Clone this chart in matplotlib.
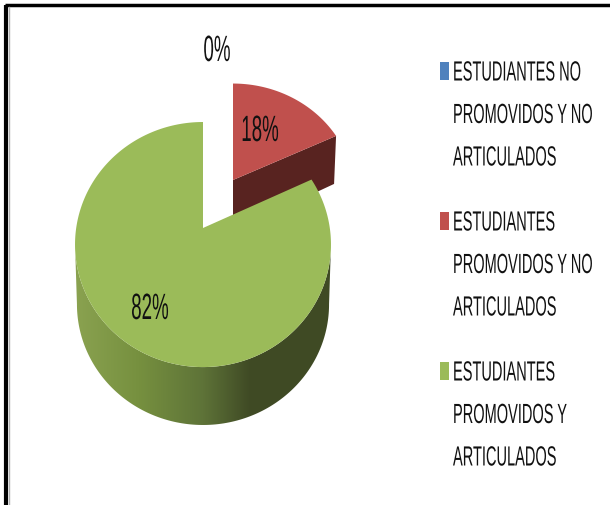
import numpy as np
import matplotlib
matplotlib.use('Agg')
import matplotlib.pyplot as plt
import matplotlib.patheffects as pe
from matplotlib.colors import LinearSegmentedColormap
from matplotlib.patches import Polygon
from matplotlib.transforms import Affine2D

categories = [
    ['ESTUDIANTES NO', 'PROMOVIDOS Y NO', 'ARTICULADOS'],
    ['ESTUDIANTES', 'PROMOVIDOS Y NO', 'ARTICULADOS'],
    ['ESTUDIANTES', 'PROMOVIDOS Y', 'ARTICULADOS'],
]
values = [0, 18, 82]
colours = ['#4F81BD', '#C0504D', '#9BBB59']

plt.rcParams['font.family'] = ['Liberation Sans', 'DejaVu Sans']
textSize = 10.5
labelSize = 13.5
sideRed = '#582320'
# pixels, same as the picture
cx, cy = 203, 229
redCx, redCy = 233, 181
depth = 60


class TallText(pe.AbstractPathEffect):
    """The picture was squashed sideways, so the letters come out tall and thin"""

    def __init__(self, stretch):
        super().__init__()
        self.stretch = stretch

    def draw_path(self, renderer, gc, tpath, affine, rgbFace=None):
        renderer.draw_path(gc, tpath, Affine2D().scale(1, self.stretch) + affine, rgbFace)


def project(theta, x0, y0, scaleX=1.0, scaleY=1.0):
    # tilted circle seen in perspective, theta clockwise from 12 o'clock
    k = 0.135
    d = 1 + k * np.cos(theta)
    return x0 + scaleX * 126.8 * np.sin(theta) / d, y0 - scaleY * 120.3 * np.cos(theta) / d


fig = plt.figure(figsize=(6.1, 5.06), dpi=100)
ax = fig.add_axes([0, 0, 1, 1])
ax.set_xlim(0, 610)
ax.set_ylim(506, 0)
ax.axis('off')

# border
ax.plot([6, 6], [506, 6], color='black', lw=3, solid_capstyle='butt')
ax.plot([4.5, 610], [6, 6], color='black', lw=2.5, solid_capstyle='butt')
ax.plot([8.5, 8.5], [507, 8], color='#b0b0b0', lw=1)

fractions = np.array(values) / sum(values)
edges = np.concatenate([[0], np.cumsum(fractions)]) * 2 * np.pi

# red slice pulled out, sits behind the green one
t = np.linspace(edges[1], edges[2], 80)
px, py = project(t, redCx, redCy, 0.95, 0.91)
cornerX, cornerY = px[-1], py[-1]
ax.add_patch(Polygon([(redCx, redCy), (cornerX, cornerY), (cornerX - 2, cornerY + 48), (redCx, redCy + 51)],
                     closed=True, fc=sideRed, ec='none', zorder=2))
ax.add_patch(Polygon(np.column_stack([np.r_[redCx, px], np.r_[redCy, py]]), closed=True,
                     fc=colours[1], ec='none', zorder=3))

# green side with the shading
t = np.linspace(edges[2], edges[3], 300)
topT = np.linspace(np.radians(97.7), np.radians(262.3), 150)
topX, topY = project(topT, cx, cy)
botX, botY = project(topT[::-1], cx, cy + depth, 0.985, 0.985)
side = Polygon(np.column_stack([np.r_[topX, botX], np.r_[topY, botY]]), closed=True, fc='none', ec='none', zorder=4)
ax.add_patch(side)
shade = LinearSegmentedColormap.from_list('shade', [(0, '#8AA250'), (0.25, '#76903F'), (0.5, '#5E7338'),
                                                    (0.68, '#404B25'), (1, '#3F4A24')])
img = ax.imshow(np.linspace(0, 1, 256).reshape(1, -1), extent=(75, 331, 430, 245), cmap=shade,
                aspect='auto', zorder=4)
img.set_clip_path(side)
ax.set_xlim(0, 610)
ax.set_ylim(506, 0)

# green top
px, py = project(t, cx, cy)
ax.add_patch(Polygon(np.column_stack([np.r_[cx, px], np.r_[cy, py]]), closed=True,
                     fc=colours[2], ec='none', zorder=5))

# percent labels
tall = [TallText(1.95)]
ax.text(217, 62, '%d%%' % values[0], fontsize=labelSize, ha='center', va='baseline', color='#111111',
        zorder=6, path_effects=tall)
ax.text(260, 142, '%d%%' % values[1], fontsize=labelSize, ha='center', va='baseline', color='#111111',
        zorder=6, path_effects=tall)
ax.text(150, 320, '%d%%' % values[2], fontsize=labelSize, ha='center', va='baseline', color='#111111',
        zorder=6, path_effects=tall)

# legend
y = 72
for lines, colour in zip(categories, colours):
    ax.add_patch(Polygon([(440, y - 9), (449, y - 9), (449, y + 9), (440, y + 9)], closed=True, fc=colour, ec='none'))
    for i, line in enumerate(lines):
        ax.text(453, y + 9.5 + i * 42.5, line, fontsize=textSize, ha='left', va='baseline', color='#111111',
                path_effects=[TallText(1.9)])
    y += 150

fig.savefig('out.png', dpi=100)
